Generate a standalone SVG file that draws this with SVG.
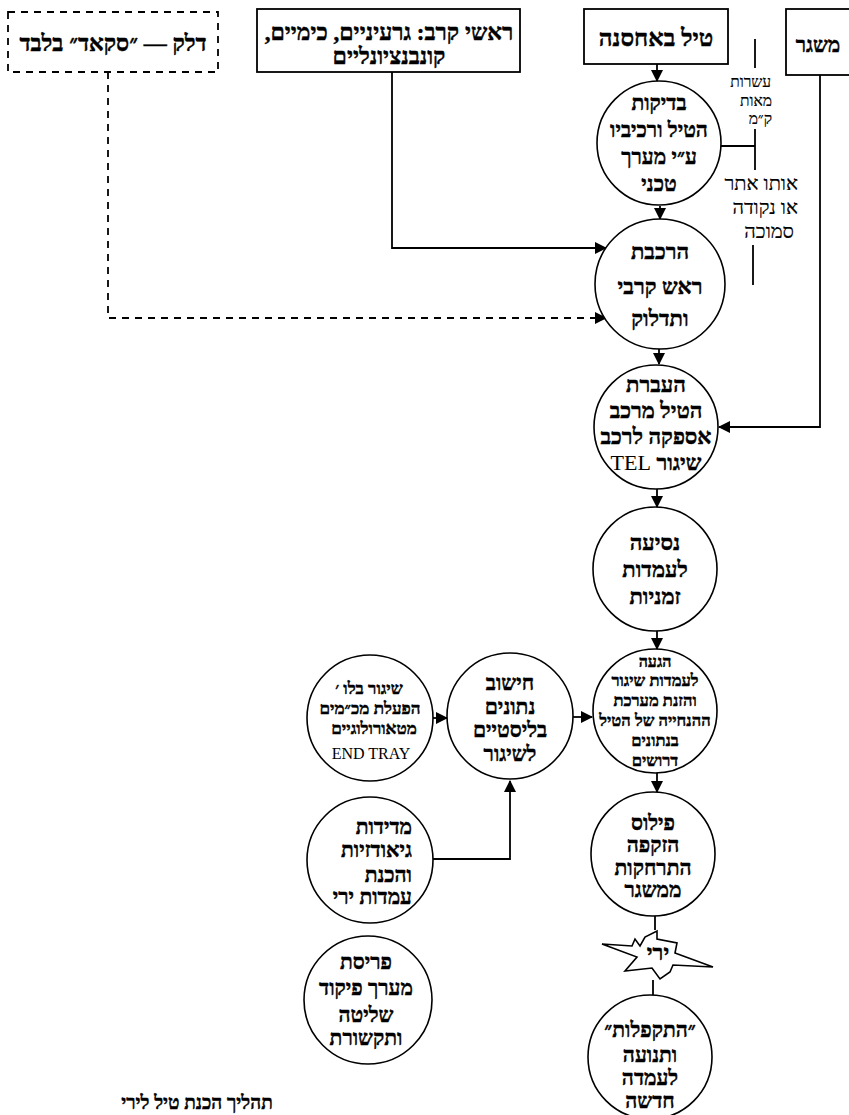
<svg xmlns="http://www.w3.org/2000/svg" width="849" height="1115" viewBox="0 0 849 1115">
<defs>
<marker id="ah" markerUnits="userSpaceOnUse" markerWidth="12" markerHeight="12" refX="11" refY="6" orient="auto">
<path d="M0,0 L12,6 L0,12 z" fill="#000"/>
</marker>
<style>
.box{fill:#fff;stroke:#000;stroke-width:1.8}
.dbox{fill:#fff;stroke:#000;stroke-width:1.8;stroke-dasharray:7,6}
.node{fill:#fff;stroke:#000;stroke-width:1.6}
.ln{fill:none;stroke:#000;stroke-width:1.8}
.dl{fill:none;stroke:#000;stroke-width:1.8;stroke-dasharray:7,6}
.arr{marker-end:url(#ah)}
text{font-family:"Liberation Serif","DejaVu Sans",serif;fill:#000;font-weight:bold;text-anchor:middle;stroke:#000;stroke-width:0.45}
.he{direction:rtl}
.reg{font-weight:normal;stroke:#000;stroke-width:0.2}
.lat{font-weight:normal;font-family:"Liberation Serif",serif;stroke:none}
</style>
</defs>
<rect width="849" height="1115" fill="#fff"/>

<g id="connectors">
<line class="ln arr" x1="657" y1="64" x2="657" y2="81"/>
<line class="ln arr" x1="660" y1="206" x2="660" y2="219"/>
<line class="ln arr" x1="659" y1="349" x2="659" y2="364"/>
<line class="ln arr" x1="657" y1="489" x2="657" y2="507"/>
<line class="ln arr" x1="657" y1="631" x2="657" y2="649"/>
<line class="ln arr" x1="657" y1="773" x2="657" y2="792"/>
<line class="ln" x1="655" y1="916" x2="655" y2="930"/>
<line class="ln" x1="653" y1="980" x2="653" y2="995"/>
<polyline class="ln arr" points="392,72 392,248 606,248"/>
<polyline class="dl arr" points="108,72 108,318 606,318"/>
<polyline class="ln arr" points="820,75 820,427 719,427"/>
<line class="ln arr" x1="433" y1="718" x2="447" y2="718"/>
<line class="ln arr" x1="573" y1="717" x2="592" y2="717"/>
<polyline class="ln arr" points="433,859 510,859 510,781"/>
<line class="ln" x1="721" y1="146" x2="755" y2="146"/>
<line class="ln" x1="755" y1="129" x2="755" y2="170"/>
<line class="ln" x1="755" y1="39" x2="755" y2="68"/>
<line class="ln" x1="753" y1="245" x2="753" y2="285"/>
</g>

<g id="fuel">
<rect class="dbox" x="8" y="12" width="210" height="60"/>
<text class="he" x="113" y="51" font-size="23">דלק — ״סקאד״ בלבד</text>
</g>
<g id="warheads">
<rect class="box" x="257" y="9" width="263" height="63"/>
<text class="he" x="389" y="40" font-size="23">ראשי קרב: גרעיניים, כימיים,</text>
<text class="he" x="389" y="64" font-size="23">קונבנציונליים</text>
</g>
<g id="storage">
<rect class="box" x="584" y="9" width="144" height="55"/>
<text class="he" x="656" y="46" font-size="24">טיל באחסנה</text>
</g>
<g id="launcher">
<rect class="box" x="786" y="9" width="70" height="66"/>
<text class="he" x="818" y="52" font-size="21">משגר</text>
</g>
<g id="distance">
<text class="he reg" x="771" y="87" font-size="15.5" style="text-anchor:start">עשרות</text>
<text class="he reg" x="772" y="105.5" font-size="15.5" style="text-anchor:start">מאות</text>
<text class="he reg" x="772" y="124" font-size="15.5" style="text-anchor:start">ק״מ</text>
<text class="he reg" x="798" y="190" font-size="20" style="text-anchor:start">אותו אתר</text>
<text class="he reg" x="798" y="214" font-size="20" style="text-anchor:start">או נקודה</text>
<text class="he reg" x="794" y="238" font-size="20" style="text-anchor:start">סמוכה</text>
</g>

<g id="checks">
<circle class="node" cx="659" cy="143" r="62"/>
<text class="he" x="659" y="110" font-size="21">בדיקות</text>
<text class="he" x="659" y="137" font-size="21">הטיל ורכיביו</text>
<text class="he" x="659" y="164" font-size="21">ע״י מערך</text>
<text class="he" x="659" y="191" font-size="21">טכני</text>
</g>
<g id="assembly">
<circle class="node" cx="660" cy="284" r="65"/>
<text class="he" x="660" y="259" font-size="22">הרכבת</text>
<text class="he" x="660" y="294" font-size="22">ראש קרבי</text>
<text class="he" x="660" y="326" font-size="22">ותדלוק</text>
</g>
<g id="transfer">
<circle class="node" cx="656" cy="427" r="62"/>
<text class="he" x="656" y="392" font-size="22">העברת</text>
<text class="he" x="656" y="418" font-size="22">הטיל מרכב</text>
<text class="he" x="656" y="444" font-size="22">אספקה לרכב</text>
<text class="he" x="656" y="470" font-size="22">שיגור <tspan class="lat">TEL</tspan></text>
</g>
<g id="drive">
<circle class="node" cx="655" cy="569" r="62"/>
<text class="he" x="655" y="550" font-size="22">נסיעה</text>
<text class="he" x="655" y="577" font-size="22">לעמדות</text>
<text class="he" x="655" y="604" font-size="22">זמניות</text>
</g>
<g id="arrival">
<circle class="node" cx="655" cy="711" r="62"/>
<text class="he" x="655" y="667" font-size="16">הגעה</text>
<text class="he" x="655" y="686" font-size="16.5">לעמדות שיגור</text>
<text class="he" x="655" y="706" font-size="16.5">והזנת מערכת</text>
<text class="he" x="655" y="726" font-size="16.5">ההנחייה של הטיל</text>
<text class="he" x="655" y="746" font-size="16.5">בנתונים</text>
<text class="he" x="655" y="766" font-size="16.5">דרושים</text>
</g>
<g id="leveling">
<circle class="node" cx="653" cy="854" r="62"/>
<text class="he" x="653" y="830" font-size="21">פילוס</text>
<text class="he" x="653" y="852" font-size="21">הזקפה</text>
<text class="he" x="653" y="875" font-size="21">התרחקות</text>
<text class="he" x="653" y="897" font-size="21">ממשגר</text>
</g>
<g id="fire">
<polygon class="node" points="657,931 657,939 677,943 675,953 713,967 673,965 670,972 660,979 652,968 625,971 637,957 602,944 632,946 635,939 640,946 645,937"/>
<text class="he" x="658" y="960" font-size="22">ירי</text>
</g>
<g id="folding">
<circle class="node" cx="650" cy="1057" r="62"/>
<text class="he" x="650" y="1037" font-size="21">״התקפלות״</text>
<text class="he" x="650" y="1062" font-size="21">ותנועה</text>
<text class="he" x="650" y="1085" font-size="21">לעמדה</text>
<text class="he" x="650" y="1108" font-size="21">חדשה</text>
</g>
<g id="ballistic">
<circle class="node" cx="510" cy="716" r="63"/>
<text class="he" x="510" y="690" font-size="21">חישוב</text>
<text class="he" x="510" y="713.5" font-size="21">נתונים</text>
<text class="he" x="510" y="737" font-size="21">בליסטיים</text>
<text class="he" x="510" y="761" font-size="21">לשיגור</text>
</g>
<g id="meteo">
<circle class="node" cx="370" cy="718" r="63"/>
<text class="he" x="369" y="694" font-size="17">שיגור בלו ׳</text>
<text class="he" x="370" y="714" font-size="17">הפעלת מכ״מים</text>
<text class="he" x="374" y="734" font-size="17">מטאורולוגיים</text>
<text class="lat" x="371" y="759" font-size="16">END TRAY</text>
</g>
<g id="survey">
<circle class="node" cx="370" cy="860" r="63"/>
<text class="he" x="412" y="834" font-size="21" style="text-anchor:start">מדידות</text>
<text class="he" x="412" y="857" font-size="21" style="text-anchor:start">גיאודזיות</text>
<text class="he" x="412" y="882" font-size="21" style="text-anchor:start">והכנת</text>
<text class="he" x="412" y="904" font-size="21" style="text-anchor:start">עמדות ירי</text>
</g>
<g id="command">
<circle class="node" cx="368" cy="1000" r="64"/>
<text class="he" x="366" y="969" font-size="21">פריסת</text>
<text class="he" x="366" y="995" font-size="21">מערך פיקוד</text>
<text class="he" x="366" y="1022" font-size="21">שליטה</text>
<text class="he" x="366" y="1045" font-size="21">ותקשורת</text>
</g>
<g id="caption">
<text class="he" x="197" y="1109" font-size="19">תהליך הכנת טיל לירי</text>
</g>
</svg>
